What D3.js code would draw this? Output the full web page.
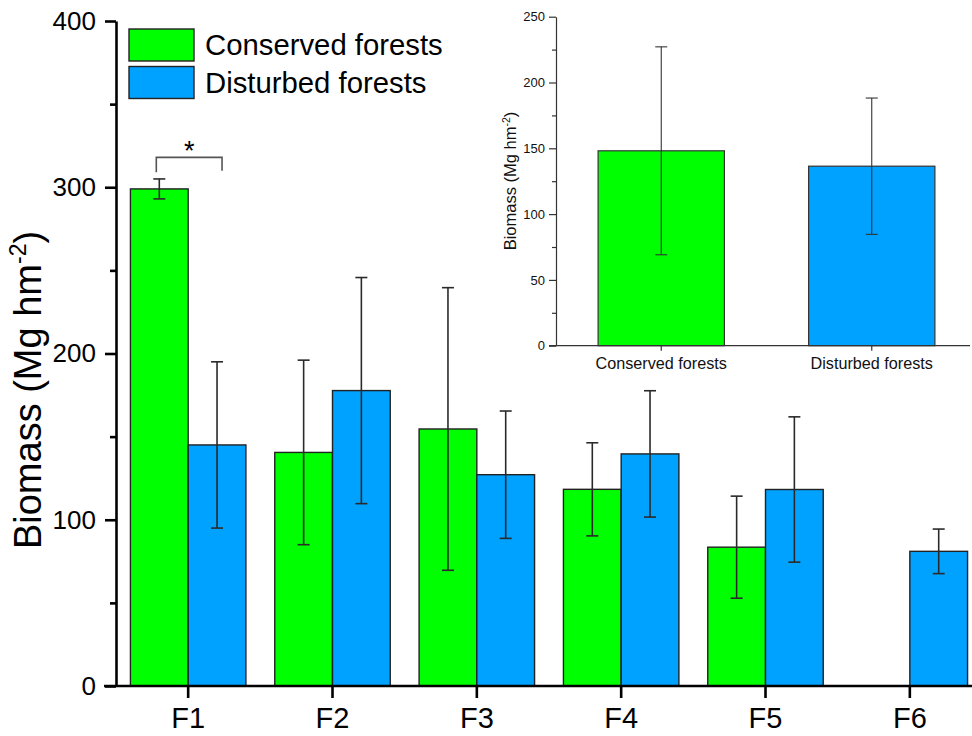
<!DOCTYPE html>
<html>
<head>
<meta charset="utf-8">
<script src="https://cdn.jsdelivr.net/npm/d3@7"></script>
<style>
  body { margin: 0; overflow: hidden; background: #fff; }
  svg { display: block; font-family: "Liberation Sans", Arial, sans-serif; }
</style>
</head>
<body>
<svg id="viz" width="972" height="736"></svg>
<script>
// sites and the two forest types (mean and sd, Mg hm-2)
let sites = ["F1", "F2", "F3", "F4", "F5", "F6"];
let conservedMean = [299, 140.5, 154.6, 118.3, 83.5, null];
let conservedSd = [6, 55.5, 85, 28, 30.7, null];
let disturbedMean = [145, 177.7, 127.1, 139.6, 118.2, 81];
let disturbedSd = [50, 68, 38.3, 38, 43.7, 13.4];

let yTicks = [0, 100, 200, 300, 400];
let yMinor = [50, 150, 250, 350];

// inset: pooled values
let pooledGroups = ["Conserved forests", "Disturbed forests"];
let pooledMean = [148.1, 136.4];
let pooledSd = [79, 51.8];
let insetTicks = [0, 50, 100, 150, 200, 250];
let insetMinor = [25, 75, 125, 175, 225];

let colors = {"Conserved forests": "#00ff00", "Disturbed forests": "#00a2ff"};

const svg = d3.select('#viz');

function app() {
	drawMain();
	drawInset();
}

function drawMain(){
	let x = d3.scaleBand().domain(sites).range([116, 982]).paddingInner(0.2).paddingOuter(0.1);
	let y = d3.scaleLinear().domain([0, 400]).range([686, 21]);
	let half = x.bandwidth() / 2;

	let rows = [];
	sites.forEach((s, i) => {
		if (conservedMean[i] != null)
			rows.push({site: s, off: 0, mean: conservedMean[i], sd: conservedSd[i], type: "Conserved forests"});
		if (disturbedMean[i] != null)
			rows.push({site: s, off: half, mean: disturbedMean[i], sd: disturbedSd[i], type: "Disturbed forests"});
	});

	let g = svg.append('g');
	g.selectAll('rect.bar')
		.data(rows)
		.enter()
		.append('rect')
		.attr('class', 'bar')
		.attr('x', d => x(d.site) + d.off)
		.attr('y', d => y(d.mean))
		.attr('width', half)
		.attr('height', d => y(0) - y(d.mean))
		.attr('fill', d => colors[d.type])
		.attr('stroke', '#222')
		.attr('stroke-width', 1.4);

	// error bars
	let eb = g.selectAll('g.err').data(rows).enter().append('g')
		.attr('stroke', '#2a2a2a').attr('stroke-width', 1.6);
	let cx = d => x(d.site) + d.off + half / 2;
	eb.append('line').attr('x1', cx).attr('x2', cx)
		.attr('y1', d => y(d.mean + d.sd)).attr('y2', d => y(d.mean - d.sd));
	eb.append('line').attr('x1', d => cx(d) - 6).attr('x2', d => cx(d) + 6)
		.attr('y1', d => y(d.mean + d.sd)).attr('y2', d => y(d.mean + d.sd));
	eb.append('line').attr('x1', d => cx(d) - 6).attr('x2', d => cx(d) + 6)
		.attr('y1', d => y(d.mean - d.sd)).attr('y2', d => y(d.mean - d.sd));

	// significance bracket over F1
	let bx1 = x("F1") + half / 2 - 3, bx2 = x("F1") + half * 1.5 + 5;
	let by = y(318);
	g.append('path')
		.attr('d', `M${bx1},${y(309)}V${by}H${bx2}V${y(310)}`)
		.attr('fill', 'none').attr('stroke', '#555').attr('stroke-width', 1.6);
	g.append('text').attr('x', (bx1 + bx2) / 2).attr('y', by + 3)
		.attr('text-anchor', 'middle').attr('font-size', 27).text('*');

	// axes
	let ax = svg.append('g').attr('transform', 'translate(0,686)')
		.call(d3.axisBottom(x).tickSize(12).tickPadding(9).tickSizeOuter(0));
	ax.select('.domain').attr('stroke-width', 2.6).attr('d', 'M104,0H982');
	ax.selectAll('.tick line').attr('stroke-width', 2.6);
	ax.selectAll('text').attr('font-size', 29).attr('font-family', null);

	let ay = svg.append('g').attr('transform', 'translate(116,0)')
		.call(d3.axisLeft(y).tickValues(yTicks).tickSize(11).tickPadding(9).tickSizeOuter(0));
	ay.select('.domain').attr('stroke-width', 2.6);
	ay.selectAll('.tick line').attr('stroke-width', 2.6);
	ay.selectAll('text').attr('font-size', 26).attr('font-family', null);

	let am = svg.append('g').attr('transform', 'translate(116,0)')
		.call(d3.axisLeft(y).tickValues(yMinor).tickSize(6).tickFormat(''));
	am.select('.domain').remove();
	am.selectAll('.tick line').attr('stroke-width', 2.6);

	let lab = svg.append('text')
		.attr('transform', 'translate(41,390) rotate(-90)')
		.attr('text-anchor', 'middle')
		.attr('font-size', 38);
	lab.append('tspan').text('Biomass (Mg hm');
	lab.append('tspan').attr('font-size', 23).attr('dy', -15).text('-2');
	lab.append('tspan').attr('dy', 15).text(')');

	// legend
	let leg = svg.append('g').attr('transform', 'translate(129,29)');
	pooledGroups.forEach((name, i) => {
		leg.append('rect').attr('x', 0).attr('y', i * 37.5).attr('width', 65).attr('height', 32)
			.attr('fill', colors[name]).attr('stroke', '#222').attr('stroke-width', 1.4);
		leg.append('text').attr('x', 76).attr('y', i * 37.5 + 26)
			.attr('font-size', 29.3).text(name);
	});
}

function drawInset(){
	let x = d3.scaleBand().domain(pooledGroups).range([556, 977]).paddingInner(0.4).paddingOuter(0.2);
	let y = d3.scaleLinear().domain([0, 250]).range([345.7, 16.7]);

	let g = svg.append('g');
	g.selectAll('rect')
		.data(pooledGroups)
		.enter()
		.append('rect')
		.attr('x', d => x(d))
		.attr('y', (d, i) => y(pooledMean[i]))
		.attr('width', x.bandwidth())
		.attr('height', (d, i) => y(0) - y(pooledMean[i]))
		.attr('fill', d => colors[d])
		.attr('stroke', '#333')
		.attr('stroke-width', 1.2);

	let eb = g.selectAll('g.err').data(pooledGroups).enter().append('g')
		.attr('stroke', '#333').attr('stroke-width', 1.1);
	let cx = d => x(d) + x.bandwidth() / 2;
	eb.append('line').attr('x1', cx).attr('x2', cx)
		.attr('y1', (d, i) => y(pooledMean[i] + pooledSd[i]))
		.attr('y2', (d, i) => y(pooledMean[i] - pooledSd[i]));
	[1, -1].forEach(s => {
		eb.append('line').attr('x1', d => cx(d) - 6).attr('x2', d => cx(d) + 6)
			.attr('y1', (d, i) => y(pooledMean[i] + s * pooledSd[i]))
			.attr('y2', (d, i) => y(pooledMean[i] + s * pooledSd[i]));
	});

	let ax = svg.append('g').attr('transform', `translate(0,${y(0)})`)
		.call(d3.axisBottom(x).tickSize(5).tickPadding(7).tickSizeOuter(0));
	ax.select('.domain').attr('d', 'M549,0H970').attr('stroke', '#333').attr('stroke-width', 1.2);
	ax.selectAll('.tick line').attr('stroke', '#333').attr('stroke-width', 1.2);
	ax.selectAll('text').attr('font-size', 16.2).attr('font-family', null).attr('fill', '#111');

	let ay = svg.append('g').attr('transform', 'translate(556,0)')
		.call(d3.axisLeft(y).tickValues(insetTicks).tickSize(7).tickPadding(4).tickSizeOuter(0));
	ay.select('.domain').attr('stroke', '#333').attr('stroke-width', 1.2);
	ay.selectAll('.tick line').attr('stroke', '#333').attr('stroke-width', 1.2);
	ay.selectAll('text').attr('font-size', 13).attr('font-family', null).attr('fill', '#111');

	let am = svg.append('g').attr('transform', 'translate(556,0)')
		.call(d3.axisLeft(y).tickValues(insetMinor).tickSize(4).tickFormat(''));
	am.select('.domain').remove();
	am.selectAll('.tick line').attr('stroke', '#333').attr('stroke-width', 1.2);

	let lab = svg.append('text')
		.attr('transform', 'translate(516,181) rotate(-90)')
		.attr('text-anchor', 'middle')
		.attr('font-size', 16.5).attr('fill', '#111');
	lab.append('tspan').text('Biomass (Mg hm');
	lab.append('tspan').attr('font-size', 10.5).attr('dy', -6).text('-2');
	lab.append('tspan').attr('dy', 6).text(')');
}

app();
</script>
</body>
</html>
